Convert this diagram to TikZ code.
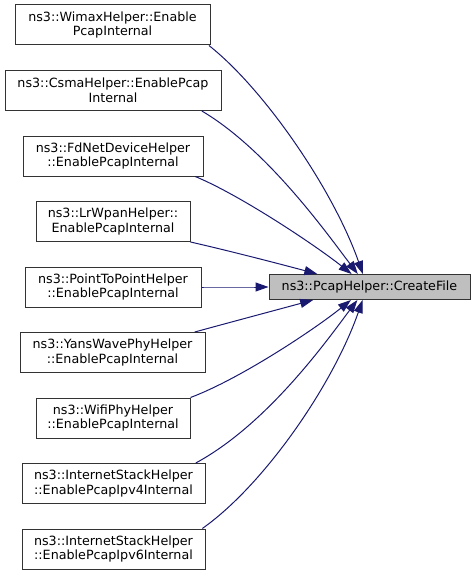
\documentclass[tikz,border=0pt]{standalone}
\usepackage{fontspec}
\setmainfont{DejaVu Sans}
\usetikzlibrary{arrows.meta}
\definecolor{callblue}{HTML}{191970}
\begin{document}
\begin{tikzpicture}[x=1pt,y=-1pt,
  caller/.style={draw=black!80,line width=1pt,fill=white,align=center,
    inner sep=0pt,minimum height=40pt,font=\fontsize{12.7}{14.8}\selectfont},
  callee/.style={caller,fill=black!25,minimum height=25pt},
  call/.style={draw=callblue,line width=1pt,-{Triangle[length=13pt,width=9pt]}}]

\useasboundingbox (0,0) rectangle (476,575);

% Callers
\node[caller,minimum width=195pt] (wimax) at (112.5,25)
{ns3::WimaxHelper::Enable\\PcapInternal};
\node[caller,minimum width=216pt] (csma) at (113,90.5)
{ns3::CsmaHelper::EnablePcap\\Internal};
\node[caller,minimum width=180pt] (fdnet) at (113,156)
{ns3::FdNetDeviceHelper\\::EnablePcapInternal};
\node[caller,minimum width=154pt] (lrwpan) at (113,221.5)
{ns3::LrWpanHelper::\\EnablePcapInternal};
\node[caller,minimum width=176pt] (ptp) at (113,287)
{ns3::PointToPointHelper\\::EnablePcapInternal};
\node[caller,minimum width=185pt] (yans) at (112.5,352.5)
{ns3::YansWavePhyHelper\\::EnablePcapInternal};
\node[caller,minimum width=154pt] (wifi) at (113,418)
{ns3::WifiPhyHelper\\::EnablePcapInternal};
\node[caller,minimum width=183pt] (ipvfour) at (113.5,483.5)
{ns3::InternetStackHelper\\::EnablePcapIpv4Internal};
\node[caller,minimum width=183pt] (ipvsix) at (113.5,549)
{ns3::InternetStackHelper\\::EnablePcapIpv6Internal};

% Callee
\node[callee,minimum width=201pt] (pcap) at (369.5,287)
{ns3::PcapHelper::CreateFile};

% Calls
\foreach \s/\a/\px/\py/\qx/\qy/\b in {
wimax/-12.6/264/89/333/189/117.5,
csma/-13.6/268/150/328/235/132.6,
fdnet/-14.2/240/195/315/245/144.5,
lrwpan/south east/230/251/280/264/166.4,
ptp/east/225/287/250/287/180,
yans/14.3/235/321/280/309/193.6,
wifi/north east/240/379/315/329/215.5,
ipvfour/14.1/268/424/328/339/227.4,
ipvsix/13/264/485/333/385/242.5
}
{
\draw[call] (\s.\a) .. controls (\px,\py) and (\qx,\qy) .. (pcap.\b);
}

\end{tikzpicture}
\end{document}
